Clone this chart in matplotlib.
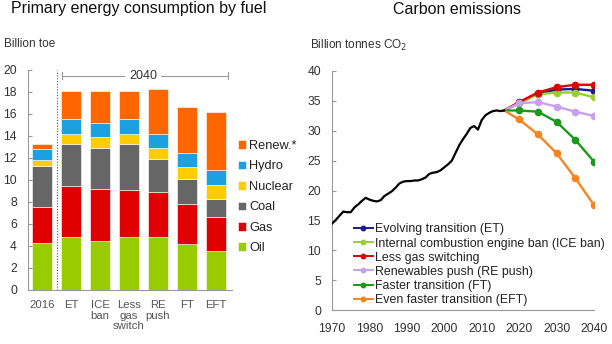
import matplotlib
matplotlib.use("Agg")
import matplotlib.pyplot as plt
import numpy as np

plt.rcParams['font.family'] = ['Liberation Sans', 'DejaVu Sans']

# ---------------- data: left chart ----------------
bar_labels = ["2016", "ET", "ICE\nban", "Less\ngas\nswitch", "RE\npush", "FT", "EFT"]
fuels = ["Oil", "Gas", "Coal", "Nuclear", "Hydro", "Renew.*"]
oil = [4.3, 4.85, 4.45, 4.85, 4.8, 4.15, 3.55]
gas = [3.25, 4.65, 4.75, 4.25, 4.1, 3.7, 3.1]
coal = [3.7, 3.8, 3.75, 4.2, 3.05, 2.2, 1.6]
nuclear = [0.6, 0.9, 1.0, 0.9, 1.0, 1.1, 1.3]
hydro = [0.95, 1.3, 1.2, 1.3, 1.2, 1.3, 1.4]
renew = [0.5, 2.55, 2.9, 2.55, 4.1, 4.2, 5.25]
fuel_colors = ["#99cc00", "#e00000", "#666666", "#ffcc00", "#1ba1e2", "#ff6600"]
bracket_label = "2040"

# ---------------- data: right chart ----------------
hist_years = list(range(1970, 2017))
hist_co2 = [14.5, 15.1, 15.8, 16.5, 16.4, 16.4, 17.2, 17.7, 18.3, 18.8,
            18.5, 18.3, 18.2, 18.4, 19.1, 19.5, 19.9, 20.5, 21.2, 21.5,
            21.6, 21.6, 21.7, 21.7, 21.9, 22.2, 22.8, 23.0, 23.1, 23.4,
            23.9, 24.4, 25.0, 26.3, 27.6, 28.6, 29.5, 30.5, 30.8, 30.2,
            31.8, 32.6, 33.0, 33.3, 33.4, 33.3, 33.4]
scen_years = [2016, 2020, 2025, 2030, 2035, 2040]
scenarios = ["Evolving transition (ET)",
             "Internal combustion engine ban (ICE ban)",
             "Less gas switching",
             "Renewables push (RE push)",
             "Faster transition (FT)",
             "Even faster transition (EFT)"]
et = [33.4, 34.7, 36.2, 36.9, 37.0, 36.7]
ice = [33.4, 34.6, 36.1, 36.4, 36.4, 35.6]
lgs = [33.4, 34.8, 36.4, 37.3, 37.7, 37.7]
re_push = [33.4, 34.6, 34.8, 34.05, 33.2, 32.5]
ft = [33.4, 33.4, 33.2, 31.5, 28.5, 24.85]
eft = [33.4, 31.9, 29.4, 26.25, 22.1, 17.6]
scen_values = [et, ice, lgs, re_push, ft, eft]
scen_colors = ["#1a1a8c", "#9acd32", "#e00000", "#c8a0f0", "#1a9a1a", "#f7841f"]

W, H = 612, 344
fig = plt.figure(figsize=(6.12, 3.44), dpi=100)

def fx(px):
    return px / W

def fy(py):
    return 1 - py / H

tick_color = "#333333"
spine_color = "#999999"

# ---------------- left chart ----------------
axL = fig.add_axes([fx(28), fy(290), fx(232) - fx(28), fy(70) - fy(290)])
x = np.arange(len(bar_labels))
bottom = np.zeros(len(x))
series = [oil, gas, coal, nuclear, hydro, renew]
handles = []
for name, vals, col in zip(fuels, series, fuel_colors):
    b = axL.bar(x, vals, width=0.69, bottom=bottom, color=col,
                edgecolor="white", linewidth=0.4, label=name)
    handles.append(b)
    bottom += np.array(vals)

axL.set_xlim(-0.48, 6.55)
axL.set_ylim(0, 20)
axL.set_yticks(range(0, 21, 2))
axL.set_xticks(x)
axL.set_xticklabels(bar_labels, linespacing=1.1)
axL.tick_params(axis="y", direction="in", length=3, pad=8, labelsize=8.7,
                colors=spine_color, labelcolor=tick_color)
axL.tick_params(axis="x", length=0, pad=7, labelsize=8.2, labelcolor="#555555")
for s in ["top", "right"]:
    axL.spines[s].set_visible(False)
for s in ["left", "bottom"]:
    axL.spines[s].set_color(spine_color)
    axL.spines[s].set_linewidth(0.8)

# dotted separator
axL.axvline(0.52, ymin=0, ymax=1, color="#555555", linestyle=(0, (1, 1.5)),
            linewidth=0.8)
# 2040 bracket
axL.plot([0.69, 6.41], [19.45, 19.45], color=spine_color, linewidth=0.8,
         clip_on=False)
axL.plot([0.69, 0.69], [19.15, 19.8], color=spine_color, linewidth=0.8,
         clip_on=False)
axL.plot([6.41, 6.41], [19.15, 19.8], color=spine_color, linewidth=0.8,
         clip_on=False)
axL.text(3.48, 19.45, bracket_label, ha="center", va="center", fontsize=9,
         color=tick_color,
         bbox=dict(facecolor="white", edgecolor="none", pad=3))

fig.text(fx(11), fy(9), "Primary energy consumption by fuel", fontsize=11.5,
         ha="left", va="center", color="#111111")
fig.text(fx(4), fy(44), "Billion toe", fontsize=8.5, ha="left", va="center",
         color=tick_color)

legL = fig.legend(handles[::-1], fuels[::-1], loc="upper left",
                  bbox_to_anchor=(fx(238), fy(140)), frameon=False,
                  fontsize=9.2, handlelength=0.65, handleheight=0.65,
                  handletextpad=0.25, labelspacing=0.66, borderpad=0,
                  borderaxespad=0)
for t in legL.get_texts():
    t.set_color("#222222")

# ---------------- right chart ----------------
axR = fig.add_axes([fx(332), fy(310.3), fx(594) - fx(332), fy(71) - fy(310.3)])
axR.plot(hist_years, hist_co2, color="black", linewidth=1.6, zorder=3)
line_handles = []
for name, vals, col in zip(scenarios, scen_values, scen_colors):
    axR.plot(scen_years, vals, color=col, linewidth=1.7, zorder=2)
    axR.plot(scen_years[1:], vals[1:], linestyle="none", marker="o",
             markersize=4.5, color=col, zorder=2)
    lh, = axR.plot([], [], color=col, linewidth=1.4, marker="o",
                   markersize=3.2, label=name)
    line_handles.append(lh)

axR.set_xlim(1970, 2040)
axR.set_ylim(0, 40)
axR.set_xticks(range(1970, 2041, 10))
axR.set_yticks(range(0, 41, 5))
axR.tick_params(axis="y", direction="in", length=3, pad=8, labelsize=8.7,
                colors=spine_color, labelcolor=tick_color)
axR.tick_params(axis="x", length=0, pad=9, labelsize=8.7, labelcolor=tick_color)
for s in ["top", "right"]:
    axR.spines[s].set_visible(False)
for s in ["left", "bottom"]:
    axR.spines[s].set_color(spine_color)
    axR.spines[s].set_linewidth(0.8)

fig.text(fx(457), fy(9), "Carbon emissions", fontsize=11.5, ha="center",
         va="center", color="#111111")
fig.text(fx(310), fy(45), "Billion tonnes CO$_2$", fontsize=8.5, ha="left",
         va="center", color=tick_color)

legR = fig.legend(line_handles, scenarios, loc="lower left",
                  bbox_to_anchor=(fx(354), fy(306)), frameon=False,
                  fontsize=8.9, handlelength=1.5, handletextpad=0.2,
                  labelspacing=0.17, borderpad=0, borderaxespad=0)
for t in legR.get_texts():
    t.set_color("#222222")

fig.savefig("out.png", dpi=100)
